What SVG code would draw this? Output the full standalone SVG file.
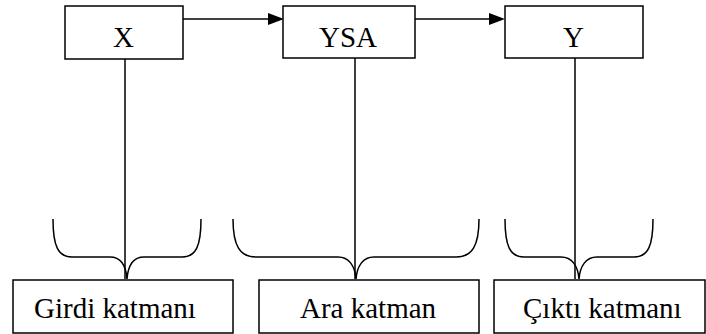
<svg xmlns="http://www.w3.org/2000/svg" width="706" height="334" viewBox="0 0 706 334">
  <defs>
    <style>
      .box { fill: #fff; stroke: #000; stroke-width: 1.5; }
      .ln { fill: none; stroke: #000; stroke-width: 1.5; }
      .head { fill: #000; }
      .lbl { font-family: 'Liberation Serif', 'Times New Roman', serif; font-size: 29px; fill: #000; }
    </style>
  </defs>

  <rect width="706" height="334" fill="#fff"/>

  <!-- connectors: arrows between the top boxes, stems and curly braces -->
  <g id="connectors">
    <line class="ln" x1="183" y1="19" x2="268" y2="19"/>
    <path class="head" d="M268,13 L284,19 L268,25 Z"/>
    <line class="ln" x1="415" y1="19" x2="490" y2="19"/>
    <path class="head" d="M489,13 L505,19 L489,25 Z"/>
    <line class="ln" x1="125" y1="59" x2="125" y2="279"/>
    <line class="ln" x1="355" y1="58" x2="355" y2="279"/>
    <line class="ln" x1="575" y1="58" x2="575" y2="279"/>
    <path class="ln" d="M53,219 C53,246 58,257 72,257 L110,257 C121,257 126,266 127,279 C128,266 133,257 144,257 L182,257 C196,257 201,246 201,219"/>
    <path class="ln" d="M233,219 C233,246 240,257 256,257 L338,257 C349,257 355,266 356,279 C357,266 363,257 374,257 L456,257 C472,257 479,246 479,219"/>
    <path class="ln" d="M505,219 C505,246 510,257 524,257 L561,257 C572,257 578,266 579,279 C580,266 586,257 597,257 L634,257 C648,257 653,246 653,219"/>
  </g>

  <g id="node-x">
    <rect class="box" x="65" y="6" width="118" height="53"/>
    <text class="lbl" x="113" y="47">X</text>
  </g>
  <g id="node-ysa">
    <rect class="box" x="283" y="6" width="132" height="52"/>
    <text class="lbl" x="319" y="47">YSA</text>
  </g>
  <g id="node-y">
    <rect class="box" x="505" y="6" width="138" height="52"/>
    <text class="lbl" x="563" y="47">Y</text>
  </g>

  <g id="node-girdi">
    <rect class="box" x="13" y="280" width="220" height="53"/>
    <text class="lbl" x="34" y="318">Girdi katmanı</text>
  </g>
  <g id="node-ara">
    <rect class="box" x="259" y="280" width="220" height="53"/>
    <text class="lbl" x="300" y="318">Ara katman</text>
  </g>
  <g id="node-cikti">
    <rect class="box" x="494" y="280" width="211" height="53"/>
    <text class="lbl" x="523" y="318">Çıktı katmanı</text>
  </g>
</svg>
